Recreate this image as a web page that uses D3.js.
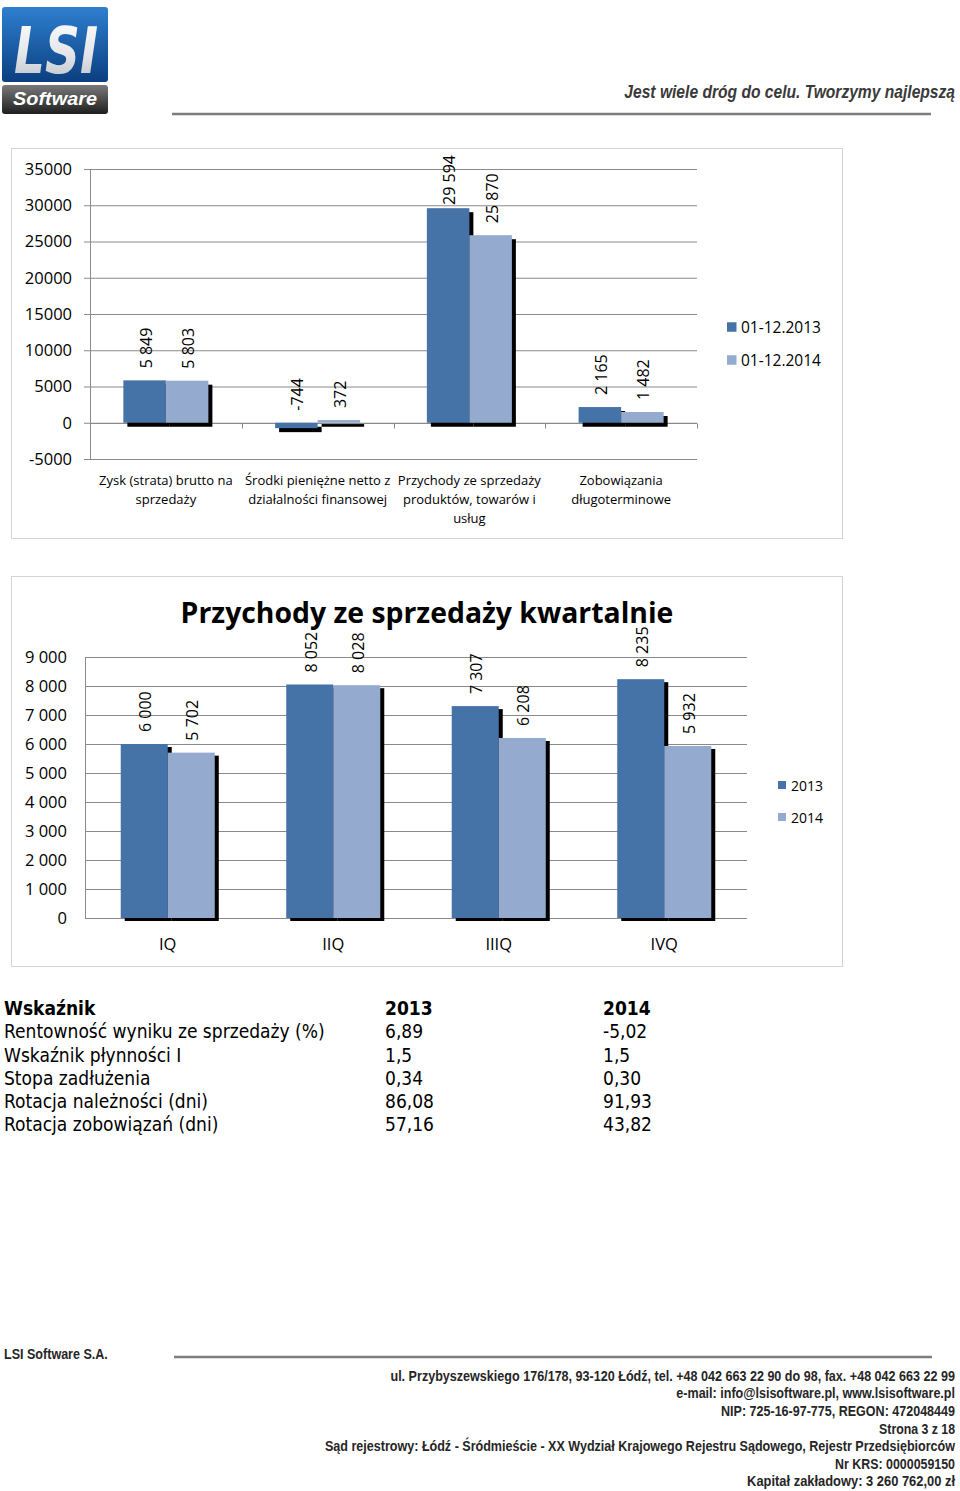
<!DOCTYPE html>
<html><head><meta charset="utf-8">
<script src="https://cdn.jsdelivr.net/npm/d3@7"></script>
<style>body{margin:0;background:#fff} svg{display:block}</style>
</head><body>
<script>
// ---------- DATA ----------
const categoryLines1 = [["Zysk (strata) brutto na","sprzedaży"],["Środki pieniężne netto z","działalności finansowej"],["Przychody ze sprzedaży","produktów, towarów i","usług"],["Zobowiązania","długoterminowe"]];
const categories1 = categoryLines1.map(l => l.join(" "));
const seriesNames1 = ["01-12.2013","01-12.2014"];
const values2013 = [5849, -744, 29594, 2165];
const values2014 = [5803, 372, 25870, 1482];
const ticks1 = [-5000, 0, 5000, 10000, 15000, 20000, 25000, 30000, 35000];

const chartTitle2 = "Przychody ze sprzedaży kwartalnie";
const quarters = ["IQ","IIQ","IIIQ","IVQ"];
const seriesNames2 = ["2013","2014"];
const quarter2013 = [6000, 8052, 7307, 8235];
const quarter2014 = [5702, 8028, 6208, 5932];
const ticks2 = [0, 1000, 2000, 3000, 4000, 5000, 6000, 7000, 8000, 9000];

const tableHeader = ["Wskaźnik","2013","2014"];
const indicators = ["Rentowność wyniku ze sprzedaży (%)","Wskaźnik płynności I","Stopa zadłużenia","Rotacja należności (dni)","Rotacja zobowiązań (dni)"];
const ind2013 = ["6,89","1,5","0,34","86,08","57,16"];
const ind2014 = ["-5,02","1,5","0,30","91,93","43,82"];

const tagline = "Jest wiele dróg do celu. Tworzymy najlepszą";
const footerCompany = "LSI Software S.A.";
const footerLines = [
  "ul. Przybyszewskiego 176/178, 93-120 Łódź, tel. +48 042 663 22 90 do 98, fax. +48 042 663 22 99",
  "e-mail: info@lsisoftware.pl, www.lsisoftware.pl",
  "NIP: 725-16-97-775, REGON: 472048449",
  "Strona 3 z 18",
  "Sąd rejestrowy: Łódź - Śródmieście - XX Wydział Krajowego Rejestru Sądowego, Rejestr Przedsiębiorców",
  "Nr KRS: 0000059150",
  "Kapitał zakładowy: 3 260 762,00   zł"
];
const footerWidths = [565, 279, 234, 76, 631, 120, 208];

// ---------- SETUP ----------
const W = 960, H = 1491;
const C1 = "#4572A7", C2 = "#94AACF", GRID = "#8a8a8a";
const FONT = "'Open Sans', 'Noto Sans', sans-serif";
const svg = d3.select("body").append("svg").attr("width", W).attr("height", H)
  .style("font-family", FONT);
const defs = svg.append("defs");
const loc = d3.formatLocale({decimal: ",", thousands: " ", grouping: [3], currency: ["", ""], minus: "-"});
const fmtSp = loc.format(",d");
const fmtPlain = loc.format("d");

function fitFont(sel, width) {
  const w = sel.node().getComputedTextLength();
  const fs = parseFloat(sel.style("font-size"));
  sel.style("font-size", (fs * width / w) + "px");
  return fs * width / w;
}
// horizontally squeezed text: anchored at (x,y), scaled to given width
function squeezed(parent, x, y, anchor, width, txt, styles) {
  const g = parent.append("g");
  const t = g.append("text").attr("text-anchor", anchor).attr("dominant-baseline","central").text(txt);
  Object.entries(styles).forEach(([k,v]) => t.style(k, v));
  const w = t.node().getComputedTextLength();
  g.attr("transform", `translate(${x},${y}) scale(${width / w},1)`);
  return t;
}

// ---------- HEADER / LOGO ----------
const gB = defs.append("linearGradient").attr("id","logoBlue").attr("x1",0).attr("y1",0).attr("x2",0).attr("y2",1);
gB.append("stop").attr("offset","0").attr("stop-color","#2f7fcf");
gB.append("stop").attr("offset","1").attr("stop-color","#0b3f80");
const gG = defs.append("linearGradient").attr("id","logoGray").attr("x1",0).attr("y1",0).attr("x2",0).attr("y2",1);
gG.append("stop").attr("offset","0").attr("stop-color","#7a7a7a");
gG.append("stop").attr("offset","1").attr("stop-color","#1e1e1e");
const gL = defs.append("linearGradient").attr("id","logoLetters").attr("x1",0).attr("y1",0).attr("x2",0).attr("y2",1);
gL.append("stop").attr("offset","0").attr("stop-color","#ffffff");
gL.append("stop").attr("offset","0.55").attr("stop-color","#e4e6ea");
gL.append("stop").attr("offset","1").attr("stop-color","#b9bec6");

const logo = svg.append("g");
logo.append("rect").attr("x",2).attr("y",7).attr("width",106).attr("height",75).attr("rx",3).attr("fill","url(#logoBlue)");
logo.append("rect").attr("x",2).attr("y",85).attr("width",106).attr("height",29).attr("rx",3).attr("fill","url(#logoGray)");
squeezed(logo, 56, 50, "middle", 84, "LSI", {"font-family":"'DejaVu Sans', sans-serif","font-weight":"bold","font-style":"italic","font-size":"64px","fill":"url(#logoLetters)"});
squeezed(logo, 55, 99, "middle", 84, "Software", {"font-family":"'Liberation Sans', Arial, sans-serif","font-weight":"bold","font-style":"italic","font-size":"18px","fill":"#fff"});

squeezed(svg, 955, 91, "end", 331, tagline, {"font-family":"'Liberation Sans', Arial, sans-serif","font-weight":"bold","font-style":"italic","font-size":"19px","fill":"#3a3a3a"});
svg.append("line").attr("x1",172).attr("x2",931).attr("y1",114).attr("y2",114).attr("stroke","#7d7d7d").attr("stroke-width",2.5);

// ---------- GENERIC BAR CHART ----------
function drawChart(cfg) {
  const g = svg.append("g");
  g.append("rect").attr("x",cfg.frame[0]+0.5).attr("y",cfg.frame[1]+0.5).attr("width",cfg.frame[2]).attr("height",cfg.frame[3])
    .attr("fill","#fff").attr("stroke","#d4d4d4").attr("stroke-width",1);
  const y = d3.scaleLinear().domain(cfg.yDomain).range(cfg.yRange);
  const x0 = d3.scaleBand().domain(cfg.cats).range(cfg.xRange).padding(0);
  const x1 = d3.scaleBand().domain([0,1]).range([0, x0.bandwidth()]).paddingInner(0).paddingOuter(cfg.outerPad);
  const [xl, xr] = cfg.xRange;
  // gridlines
  const ax = d3.axisLeft(y).tickValues(cfg.ticks).tickFormat(cfg.tickFmt).tickSize(-(xr - xl)).tickSizeOuter(0).tickPadding(cfg.tickPad);
  const ag = g.append("g").attr("transform",`translate(${xl},0)`).call(ax);
  ag.select(".domain").remove();
  ag.selectAll(".tick line").attr("stroke",GRID).attr("x1", -cfg.tickOut);
  ag.selectAll(".tick text").style("font-family",FONT).style("font-size",cfg.tickFs+"px").attr("fill","#000");
  // vertical axis
  g.append("line").attr("x1",xl+0.5).attr("x2",xl+0.5).attr("y1",cfg.yRange[1]).attr("y2",cfg.yRange[0]).attr("stroke",GRID);
  // category axis at zero
  const y0 = Math.round(y(0)) + 0.5;
  g.append("line").attr("x1",xl).attr("x2",xr).attr("y1",y0).attr("y2",y0).attr("stroke",GRID);
  if (cfg.catTicks) {
    cfg.cats.forEach((c,i) => {
      const xx = Math.round(x0(c) + x0.bandwidth()) + 0.5;
      g.append("line").attr("x1",xx).attr("x2",xx).attr("y1",y0).attr("y2",y0+5).attr("stroke",GRID);
    });
  }
  const series = [cfg.s1, cfg.s2];
  const cols = [C1, C2];
  const bars = [];
  cfg.cats.forEach((c,i) => series.forEach((s,j) => bars.push({c, j, v: s[i]})));
  const bx = d => x0(d.c) + x1(d.j);
  const by = d => Math.min(y(d.v), y(0));
  const bh = d => Math.abs(y(d.v) - y(0));
  // shadows
  g.append("g").selectAll("rect").data(bars).join("rect")
    .attr("x", d => bx(d) + cfg.shadow[0]).attr("y", d => by(d) + cfg.shadow[1])
    .attr("width", x1.bandwidth()).attr("height", bh).attr("fill","#000");
  // bars
  g.append("g").selectAll("rect").data(bars).join("rect")
    .attr("x", bx).attr("y", by).attr("width", x1.bandwidth()).attr("height", bh)
    .attr("fill", d => cols[d.j]);
  // data labels
  g.append("g").selectAll("text").data(bars).join("text")
    .style("font-size", cfg.labelFs+"px").attr("fill","#000")
    .attr("dominant-baseline","central").attr("text-anchor","start")
    .text(d => fmtSp(d.v))
    .each(function(d) {
      const len = this.getComputedTextLength();
      let start = y(Math.max(d.v, 0)) - cfg.labelGap;
      if (start - len < cfg.labelTop) start = cfg.labelTop + len;
      d3.select(this).attr("transform", `translate(${bx(d) + x1.bandwidth()/2 + 1},${start}) rotate(-90)`);
    });
  // category labels
  cfg.cats.forEach((c,i) => {
    const lines = cfg.catLines[i];
    const t = g.append("text").attr("text-anchor","middle").style("font-size",cfg.catFs+"px").attr("fill","#000");
    lines.forEach((ln,k) => t.append("tspan").attr("x", x0(c) + x0.bandwidth()/2).attr("y", cfg.catY + k*cfg.catLH)
      .attr("dominant-baseline","central").text(ln));
  });
  // legend
  cfg.legend.names.forEach((n,j) => {
    const ly = cfg.legend.y[j];
    g.append("rect").attr("x",cfg.legend.x).attr("y",ly - cfg.legend.sq/2).attr("width",cfg.legend.sq).attr("height",cfg.legend.sq).attr("fill",cols[j]);
    g.append("text").attr("x",cfg.legend.tx).attr("y",ly).attr("dominant-baseline","central")
      .style("font-size",cfg.legend.fs+"px").attr("fill","#000").text(n);
  });
  return g;
}

// Chart 1
drawChart({
  frame: [11, 148, 831, 390],
  yDomain: [ticks1[0], ticks1[ticks1.length-1]], yRange: [459, 169],
  xRange: [90, 697], outerPad: 0.785,
  cats: categories1, catLines: categoryLines1, catY: 480, catLH: 18.8, catFs: 13,
  ticks: ticks1, tickFmt: fmtPlain, tickFs: 16.5, tickPad: 18, tickOut: 6, catTicks: true,
  s1: values2013, s2: values2014, shadow: [4, 4],
  labelFs: 16, labelGap: 12, labelTop: 155,
  legend: {names: seriesNames1, x: 727, tx: 741, y: [327, 360], sq: 9.5, fs: 15.5}
});

// Chart 2
const g2 = drawChart({
  frame: [11, 576, 831, 390],
  yDomain: [ticks2[0], ticks2[ticks2.length-1]], yRange: [918, 657],
  xRange: [85, 747], outerPad: 0.76,
  cats: quarters, catLines: quarters.map(q => [q]), catY: 943, catLH: 18, catFs: 16.5,
  ticks: ticks2, tickFmt: fmtSp, tickFs: 16.5, tickPad: 18, tickOut: 0, catTicks: false,
  s1: quarter2013, s2: quarter2014, shadow: [4, 3],
  labelFs: 16, labelGap: 12, labelTop: 600,
  legend: {names: seriesNames2, x: 778, tx: 791, y: [785, 817], sq: 8, fs: 14}
});
const title = g2.append("text").attr("x", 427).attr("y", 623).attr("text-anchor","middle")
  .style("font-size","28px").style("font-weight","bold").attr("fill","#000").text(chartTitle2);
fitFont(title, 493);

// ---------- TABLE ----------
const TF = "'DejaVu Sans Condensed', 'DejaVu Sans', Verdana, sans-serif";
const tbl = svg.append("g").style("font-family", TF).attr("fill","#000");
const colX = [4, 385, 603];
const rowY = [1008, 1031, 1055, 1078, 1101, 1124];
const probe = tbl.append("text").style("font-size","16px").text(indicators[0]);
const tfs = fitFont(probe, 321);
probe.remove();
tableHeader.forEach((h,i) => tbl.append("text").attr("x",colX[i]).attr("y",rowY[0]).attr("dominant-baseline","central")
  .style("font-size",tfs+"px").style("font-weight","bold").text(h));
indicators.forEach((ind,r) => {
  [ind, ind2013[r], ind2014[r]].forEach((v,i) => tbl.append("text").attr("x",colX[i]).attr("y",rowY[r+1])
    .attr("dominant-baseline","central").style("font-size",tfs+"px").text(v));
});

// ---------- FOOTER ----------
const FST = {"font-family":"'Liberation Sans', Arial, sans-serif","font-weight":"bold","font-size":"14.5px","fill":"#262626"};
squeezed(svg, 4, 1354, "start", 104, footerCompany, FST);
svg.append("line").attr("x1",174).attr("x2",932).attr("y1",1357).attr("y2",1357).attr("stroke","#7d7d7d").attr("stroke-width",2.5);
const footY = [1376, 1393, 1411, 1429, 1446, 1464, 1481];
footerLines.forEach((l,i) => squeezed(svg, 955, footY[i], "end", footerWidths[i], l, FST));
</script>
</body></html>
